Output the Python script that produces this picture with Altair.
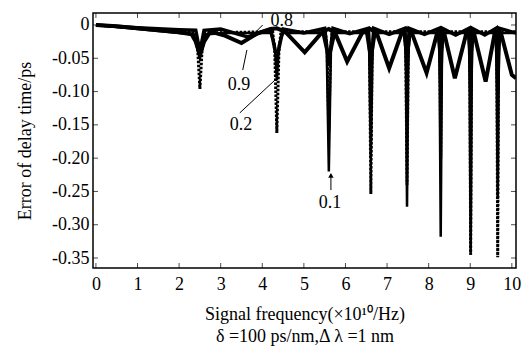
import altair as alt
import pandas as pd

FONT = "Liberation Serif"

# ---- curve data ----
c09_x = [0, 0.5, 1.0, 1.5, 2.0, 2.3, 2.4, 2.5, 2.6, 2.75, 3.1, 3.5, 3.9, 4.2, 4.35, 4.55, 5.02, 5.45, 5.6, 5.75,
         6.04, 6.4, 6.6, 6.75, 7.05, 7.35, 7.48, 7.6, 7.95, 8.2, 8.29, 8.38, 8.63, 8.9, 9.01, 9.1, 9.37, 9.58,
         9.66, 9.75, 10.0, 10.1]
c09_y = [0, -0.002, -0.005, -0.008, -0.011, -0.014, -0.025, -0.045, -0.025, -0.01, -0.016, -0.027, -0.012,
         -0.006, -0.005, -0.01, -0.041, -0.01, -0.006, -0.012, -0.055, -0.012, -0.006, -0.012, -0.065, -0.012,
         -0.006, -0.013, -0.072, -0.013, -0.006, -0.014, -0.08, -0.014, -0.006, -0.015, -0.085, -0.015, -0.006,
         -0.015, -0.075, -0.08]

c08_x = [0, 1, 2, 2.4, 2.5, 2.6, 3.0, 3.65, 4.2, 4.35, 4.5, 5.0, 5.5, 5.6, 5.7, 6.1, 6.55, 6.61, 6.68, 7.05,
         7.43, 7.48, 7.53, 7.9, 8.25, 8.29, 8.33, 8.65, 8.97, 9.01, 9.05, 9.35, 9.62, 9.66, 9.7, 10.1]
c08_y = [0, -0.004, -0.007, -0.008, -0.04, -0.008, -0.006, -0.018, -0.006, -0.05, -0.006, -0.012, -0.005,
         -0.06, -0.005, -0.013, -0.005, -0.07, -0.005, -0.014, -0.005, -0.08, -0.005, -0.014, -0.005, -0.09,
         -0.005, -0.015, -0.005, -0.1, -0.005, -0.015, -0.005, -0.1, -0.005, -0.012]

c01_x = [0, 1, 2, 2.35, 2.5, 2.65, 3.2, 4.2, 4.3, 4.35, 4.4, 4.5, 5.45, 5.55, 5.6, 5.65, 5.75, 6.5, 6.57, 6.61,
         6.65, 6.72, 7.4, 7.45, 7.48, 7.51, 7.56, 8.22, 8.26, 8.29, 8.32, 8.36, 8.95, 8.98, 9.01, 9.04, 9.08,
         9.6, 9.63, 9.66, 9.69, 9.72, 10.1]
c01_y = [0, -0.006, -0.012, -0.014, -0.05, -0.014, -0.012, -0.012, -0.03, -0.083, -0.03, -0.012, -0.012,
         -0.04, -0.22, -0.04, -0.012, -0.012, -0.04, -0.2, -0.04, -0.012, -0.012, -0.04, -0.273, -0.04, -0.012,
         -0.012, -0.04, -0.318, -0.04, -0.012, -0.012, -0.04, -0.345, -0.04, -0.012, -0.012, -0.04, -0.26,
         -0.04, -0.012, -0.012]

c02_x = [0, 1, 2, 2.4, 2.45, 2.5, 2.55, 2.6, 4.25, 4.3, 4.35, 4.4, 4.45, 5.52, 5.56, 5.6, 5.64, 5.68, 6.54,
         6.58, 6.61, 6.64, 6.68, 7.42, 7.45, 7.48, 7.51, 7.54, 8.24, 8.27, 8.29, 8.31, 8.34, 8.96, 8.99, 9.01,
         9.03, 9.06, 9.61, 9.64, 9.66, 9.68, 9.71, 10.1]
c02_y = [0, -0.005, -0.01, -0.012, -0.04, -0.096, -0.04, -0.012, -0.01, -0.04, -0.162, -0.04, -0.01, -0.01,
         -0.04, -0.16, -0.04, -0.01, -0.01, -0.04, -0.254, -0.04, -0.01, -0.01, -0.04, -0.24, -0.04, -0.01,
         -0.01, -0.04, -0.2, -0.04, -0.01, -0.01, -0.04, -0.345, -0.04, -0.01, -0.01, -0.04, -0.349, -0.04,
         -0.01, -0.01]

# ---- annotations ----
lab_text = ["0.8", "0.9", "0.2", "0.1"]
lab_x = [4.47, 3.44, 3.49, 5.63]
lab_y = [0.0065, -0.09, -0.15, -0.267]

ptr_x = [4.01, 3.53, 3.46, 5.65]
ptr_y = [0.0, -0.0676, -0.132, -0.248]
ptr_x2 = [3.65, 3.63, 4.30, 5.65]
ptr_y2 = [-0.0225, -0.0375, -0.083, -0.228]

arrow_x = [5.65]
arrow_y = [-0.226]

x_ticks = [0, 1, 2, 3, 4, 5, 6, 7, 8, 9, 10]
y_ticks = [0, -0.05, -0.10, -0.15, -0.20, -0.25, -0.30, -0.35]

XDOM = [-0.07, 10.1]
YDOM = [-0.365, 0.018]
W, H = 423, 255

xs = alt.Scale(domain=XDOM, nice=False, zero=False)
ys = alt.Scale(domain=YDOM, nice=False, zero=False)

x_axis = alt.Axis(values=x_ticks, ticks=False, domain=False, grid=False, labelFont=FONT, labelFontSize=18,
                  labelColor="black", labelPadding=7, labelFlush=False,
                  title=["Signal frequency(×10¹⁰/Hz)", "δ =100 ps/nm,Δ λ =1 nm"],
                  titleFont=FONT, titleFontSize=18, titleFontWeight="normal", titleColor="black",
                  titlePadding=12, titleLineHeight=22)
y_axis = alt.Axis(values=y_ticks, ticks=False, domain=False, grid=False, labelFont=FONT, labelFontSize=18,
                  labelColor="black", labelPadding=4,
                  labelExpr="datum.value == 0 ? '0' : '-' + format(-datum.value, '.2f')",
                  title="Error of delay time/ps", titleFont=FONT, titleFontSize=18, titleFontWeight="normal",
                  titleColor="black", titlePadding=17)


def X(field):
    return alt.X(field, scale=xs, axis=x_axis)


def Y(field):
    return alt.Y(field, scale=ys, axis=y_axis)


def curve(xv, yv):
    return pd.DataFrame({"f": xv, "e": yv})


l09 = alt.Chart(curve(c09_x, c09_y)).mark_line(color="black", strokeWidth=4, clip=True).encode(
    x=X("f:Q"), y=Y("e:Q"))
l08 = alt.Chart(curve(c08_x, c08_y)).mark_line(color="black", strokeWidth=3.5, clip=True).encode(
    x=X("f:Q"), y=Y("e:Q"))
l01 = alt.Chart(curve(c01_x, c01_y)).mark_line(color="black", strokeWidth=2.5, clip=True).encode(
    x=X("f:Q"), y=Y("e:Q"))
l02 = alt.Chart(curve(c02_x, c02_y)).mark_line(color="black", strokeWidth=3, strokeDash=[2.5, 1.5],
                                               clip=True).encode(x=X("f:Q"), y=Y("e:Q"))

labels = alt.Chart(pd.DataFrame({"t": lab_text, "f": lab_x, "e": lab_y})).mark_text(
    font=FONT, fontSize=18, color="black", align="center", baseline="middle").encode(
    x=X("f:Q"), y=Y("e:Q"), text="t:N")

pointers = alt.Chart(pd.DataFrame({"f": ptr_x, "e": ptr_y, "f2": ptr_x2, "e2": ptr_y2})).mark_rule(
    color="black", strokeWidth=1).encode(x=X("f:Q"), y=Y("e:Q"), x2="f2:Q", y2="e2:Q")

arrow = alt.Chart(pd.DataFrame({"f": arrow_x, "e": arrow_y})).mark_point(
    shape="triangle-up", filled=True, color="black", size=30, opacity=1).encode(x=X("f:Q"), y=Y("e:Q"))

ydf = pd.DataFrame({"e": y_ticks})
xdf = pd.DataFrame({"f": x_ticks})
tick_l = alt.Chart(ydf).mark_tick(color="black", thickness=1, size=5, orient="horizontal").encode(
    y=Y("e:Q"), x=alt.value(2.5))
tick_r = alt.Chart(ydf).mark_tick(color="black", thickness=1, size=5, orient="horizontal").encode(
    y=Y("e:Q"), x=alt.value(W - 2.5))
tick_b = alt.Chart(xdf).mark_tick(color="black", thickness=1, size=5, orient="vertical").encode(
    x=X("f:Q"), y=alt.value(H - 2.5))
tick_t = alt.Chart(xdf).mark_tick(color="black", thickness=1, size=5, orient="vertical").encode(
    x=X("f:Q"), y=alt.value(2.5))

chart = alt.layer(l09, l08, l01, l02, tick_l, tick_r, tick_b, tick_t, pointers, arrow, labels).properties(
    width=W, height=H,
    autosize=alt.AutoSizeParams(type="none"),
    padding={"left": 93, "top": 13, "right": 12, "bottom": 79},
    background="white",
).configure_view(stroke="black", strokeWidth=1.5)

chart.save("out.html", embed_options={"renderer": "svg", "actions": False})
